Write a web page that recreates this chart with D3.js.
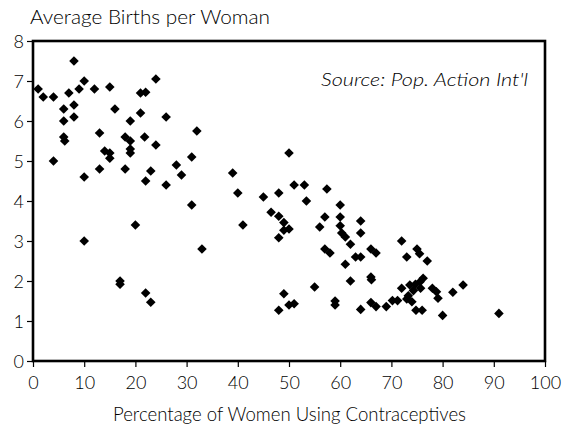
<!DOCTYPE html>
<html><head><meta charset="utf-8">
<script src="https://cdn.jsdelivr.net/npm/d3@7"></script>
<style>
body{margin:0;background:#fff;}
text{font-family:Lato,"Open Sans",sans-serif;fill:#000;font-weight:300;}
</style></head>
<body><svg id="c" width="574" height="431"></svg>
<script>
const contraceptiveUse = [1,2,4,4,6,6,6,6.2,7,8,8,8,9,10,10,10,12,13,13,14,15,15,15,16,17,17,18,18,19,19,19,19,20,21,21,22,21.8,22,22,23,23,24,24,26,26,28,29,31,31,32,33,
39,40,41,45,46.5,48,48,49,49,50,48,50,51,53,53.4,57.4,57,56,57,58,60,60,60,60.3,61,64,64,62,63,64,61,66,67,66,66.1,62,55,49,50,51,48,59,59,64,66,67,69,
70.2,71.2,72,75,75.5,73,77,72,73.6,74.7,75.6,76.2,74.3,75.7,73.3,73,74,78,78.8,79.1,82,84,74.8,76,80,91];
const birthsPerWoman = [6.8,6.6,6.6,5.0,6.3,6.0,5.6,5.5,6.7,7.5,6.4,6.1,6.8,7.0,4.6,3.0,6.8,5.7,4.8,5.25,6.85,5.2,5.07,6.3,2.0,1.92,5.6,4.8,6.0,5.5,5.3,5.2,3.4,6.7,6.2,6.72,5.6,4.5,1.7,4.75,1.47,7.05,5.4,6.1,4.4,4.9,4.65,5.1,3.9,5.75,2.8,
4.7,4.2,3.4,4.1,3.72,4.2,3.62,3.46,3.27,3.3,3.08,5.2,4.4,4.4,4.0,4.3,3.6,3.35,2.8,2.7,3.9,3.6,3.38,3.2,3.1,3.5,3.2,2.92,2.6,2.6,2.42,2.8,2.7,2.1,2.03,2.0,1.85,1.68,1.4,1.43,1.27,1.5,1.4,1.29,1.46,1.36,1.36,
1.51,1.51,3.0,2.8,2.68,2.6,2.5,1.82,1.9,1.92,1.98,2.07,1.76,1.82,1.63,1.55,1.48,1.82,1.73,1.57,1.72,1.9,1.27,1.27,1.14,1.19];
const xTicks = [0,10,20,30,40,50,60,70,80,90,100];
const yTicks = [0,1,2,3,4,5,6,7,8];
const yTitle = "Average Births per Woman";
const xTitle = "Percentage of Women Using Contraceptives";
const sourceNote = "Source: Pop. Action Int'l";

const svg = d3.select("#c");
const L=33,R=545,T=41,B=361;
const x = d3.scaleLinear().domain([0,100]).range([L,R]);
const y = d3.scaleLinear().domain([0,8]).range([B,T]);

const xa = svg.append("g").attr("transform",`translate(0,${B})`)
  .call(d3.axisBottom(x).tickValues(xTicks).tickSize(6).tickPadding(9).tickFormat(d3.format("d")));
const ya = svg.append("g").attr("transform",`translate(${L},0)`)
  .call(d3.axisLeft(y).tickValues(yTicks).tickSize(6).tickPadding(3).tickFormat(d3.format("d")));
[xa,ya].forEach(a=>{
  a.select(".domain").remove();
  a.selectAll(".tick line").attr("stroke","#000").attr("stroke-width",1.2);
  a.selectAll(".tick text").style("font-size","18px").style("font-weight","300").attr("fill","#000");
});
xa.selectAll(".tick text").attr("dy","0.71em");
ya.selectAll(".tick text").attr("dy","0.35em");

svg.append("rect").attr("x",L).attr("y",T).attr("width",R-L).attr("height",B-T)
  .attr("fill","none").attr("stroke","#000").attr("stroke-width",2.6);

const pts = contraceptiveUse.map((v,i)=>[v,birthsPerWoman[i]]);
svg.append("g").selectAll("path").data(pts).join("path")
  .attr("d", d3.symbol().type(d3.symbolSquare).size(46))
  .attr("transform", d=>`translate(${x(d[0])},${y(d[1])}) rotate(45)`)
  .attr("fill","#000");

svg.append("text").attr("x",30).attr("y",24).style("font-size","19px")
  .attr("textLength",240).attr("lengthAdjust","spacingAndGlyphs").text(yTitle);
svg.append("text").attr("x",113).attr("y",421).style("font-size","19px")
  .attr("textLength",353).attr("lengthAdjust","spacingAndGlyphs").text(xTitle);
svg.append("text").attr("x",321).attr("y",86).style("font-size","18.5px").style("font-style","italic")
  .attr("textLength",207).attr("lengthAdjust","spacingAndGlyphs").text(sourceNote);
</script></body></html>
